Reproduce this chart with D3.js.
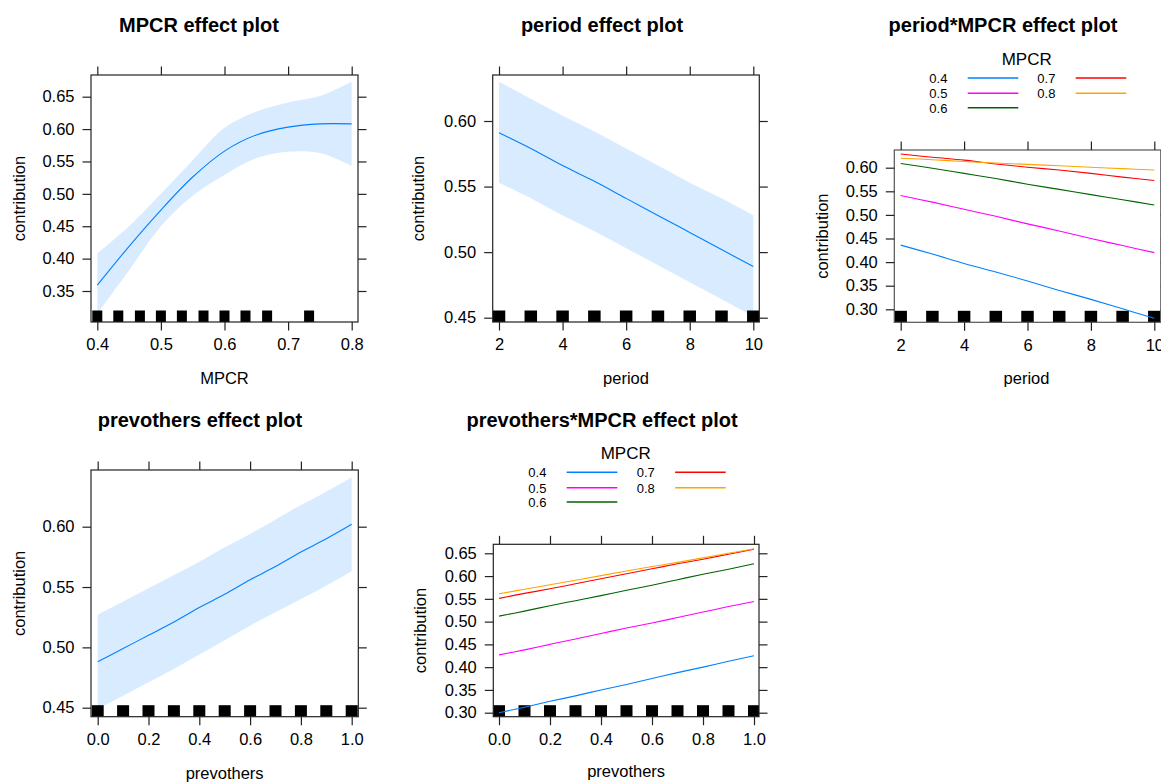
<!DOCTYPE html>
<html>
<head>
<meta charset="utf-8">
<script src="https://cdn.jsdelivr.net/npm/d3@7"></script>
<style>
  body { margin: 0; background: #fff; }
  svg text { font-family: "Liberation Sans", Arial, sans-serif; fill: #000; }
</style>
</head>
<body>
<svg id="vimage" width="1161" height="782"></svg>
<script>
//---------------------------------------- data ---------------------------------------
var mpcrX     = [0.40, 0.45, 0.50, 0.55, 0.60, 0.65, 0.70, 0.75, 0.80];
var mpcrFit   = [0.359, 0.419, 0.475, 0.526, 0.566, 0.591, 0.603, 0.608, 0.608];
var mpcrUpper = [0.408, 0.450, 0.500, 0.552, 0.602, 0.627, 0.641, 0.651, 0.673];
var mpcrLower = [0.315, 0.382, 0.450, 0.497, 0.529, 0.555, 0.565, 0.563, 0.543];
var mpcrRug   = [0.4, 0.433, 0.467, 0.5, 0.533, 0.567, 0.6, 0.633, 0.667, 0.733];

var periodX     = [2, 3, 4, 5, 6, 7, 8, 9, 10];
var periodFit   = [0.591, 0.579, 0.566, 0.554, 0.541, 0.528, 0.515, 0.502, 0.489];
var periodUpper = [0.630, 0.617, 0.604, 0.592, 0.579, 0.566, 0.553, 0.541, 0.528];
var periodLower = [0.553, 0.541, 0.528, 0.516, 0.503, 0.490, 0.477, 0.464, 0.451];

var prevX     = [0.0, 0.1, 0.2, 0.3, 0.4, 0.5, 0.6, 0.7, 0.8, 0.9, 1.0];
var prevFit   = [0.488, 0.499, 0.510, 0.521, 0.533, 0.544, 0.556, 0.567, 0.579, 0.590, 0.602];
var prevUpper = [0.527, 0.538, 0.549, 0.560, 0.571, 0.583, 0.594, 0.606, 0.618, 0.629, 0.641];
var prevLower = [0.449, 0.460, 0.471, 0.482, 0.494, 0.506, 0.518, 0.529, 0.540, 0.551, 0.563];

var mpcrLevels = ["0.4", "0.5", "0.6", "0.7", "0.8"];
var levelColors = ["#0080ff", "#ff00ff", "#006400", "#ff0000", "#ffa500"];

// period*MPCR, one row per MPCR level
var periodByMpcr = [
  [0.436, 0.417, 0.397, 0.379, 0.360, 0.340, 0.321, 0.301, 0.281],
  [0.541, 0.527, 0.512, 0.497, 0.481, 0.466, 0.450, 0.435, 0.420],
  [0.609, 0.599, 0.588, 0.577, 0.565, 0.554, 0.543, 0.532, 0.521],
  [0.629, 0.622, 0.616, 0.608, 0.601, 0.595, 0.588, 0.580, 0.573],
  [0.620, 0.617, 0.613, 0.610, 0.607, 0.604, 0.601, 0.598, 0.595]
];

// prevothers*MPCR, one row per MPCR level
var prevByMpcr = [
  [0.300, 0.312, 0.325, 0.337, 0.350, 0.362, 0.375, 0.388, 0.400, 0.413, 0.425],
  [0.427, 0.438, 0.450, 0.462, 0.474, 0.486, 0.497, 0.509, 0.521, 0.533, 0.544],
  [0.512, 0.523, 0.535, 0.546, 0.557, 0.569, 0.580, 0.592, 0.604, 0.615, 0.627],
  [0.551, 0.562, 0.572, 0.583, 0.594, 0.605, 0.616, 0.627, 0.637, 0.648, 0.659],
  [0.561, 0.571, 0.581, 0.591, 0.601, 0.611, 0.621, 0.630, 0.640, 0.650, 0.660]
];

var mpcrTicks = [0.4, 0.5, 0.6, 0.7, 0.8];
var periodTicks = [2, 4, 6, 8, 10];
var prevTicks = [0.0, 0.2, 0.4, 0.6, 0.8, 1.0];

var svg = d3.select("#vimage");
var clipCount = 0;

//---------------------------------------- one lattice-style panel ---------------------------------------
function panel(p) {
  var x = d3.scaleLinear().domain(p.xd).range(p.xr);
  var y = d3.scaleLinear().domain(p.yd).range(p.yr);
  var b = p.box;
  var g = svg.append("g");

  var clipId = "clip" + (clipCount++);
  g.append("clipPath").attr("id", clipId)
    .append("rect").attr("x", b[0]).attr("y", b[1]).attr("width", b[2] - b[0]).attr("height", b[3] - b[1]);
  var plot = g.append("g").attr("clip-path", "url(#" + clipId + ")");

  // confidence band
  if (p.band) {
    var area = d3.area()
      .x(function(d, i) { return x(p.xs[i]); })
      .y0(function(d, i) { return y(p.band[1][i]); })
      .y1(function(d, i) { return y(p.band[0][i]); })
      .curve(d3.curveCatmullRom);
    plot.append("path").datum(p.xs).attr("d", area)
      .attr("fill", "rgba(0,128,255,0.15)");
  }

  // rug
  plot.selectAll(".rug").data(p.rug).enter().append("rect")
    .attr("x", function(d) { return x(d) - p.rugW / 2; })
    .attr("y", b[3] - 11.5)
    .attr("width", p.rugW)
    .attr("height", 11.5)
    .attr("fill", "#000");

  // fitted lines
  var line = d3.line()
    .x(function(d, i) { return x(p.xs[i]); })
    .y(function(d) { return y(d); })
    .curve(d3.curveCatmullRom);
  p.lines.forEach(function(vals, k) {
    plot.append("path").datum(vals).attr("d", line)
      .attr("fill", "none")
      .attr("stroke", p.colors[k])
      .attr("stroke-width", 1.1);
  });

  // box
  g.append("rect").attr("x", b[0]).attr("y", b[1]).attr("width", b[2] - b[0]).attr("height", b[3] - b[1])
    .attr("fill", "none").attr("stroke", p.boxColor || "#222").attr("stroke-width", 1.2);

  // axes: labels left/bottom, ticks on all sides
  var tl = 8.5;
  var bottom = g.append("g").attr("transform", "translate(0," + b[3] + ")")
    .call(d3.axisBottom(x).tickValues(p.xt).tickSize(tl).tickPadding(8).tickFormat(p.xf));
  var top = g.append("g").attr("transform", "translate(0," + b[1] + ")")
    .call(d3.axisTop(x).tickValues(p.xt).tickSize(tl).tickFormat(""));
  var left = g.append("g").attr("transform", "translate(" + b[0] + ",0)")
    .call(d3.axisLeft(y).tickValues(p.yt).tickSize(tl).tickPadding(8).tickFormat(d3.format(".2f")));
  var right = g.append("g").attr("transform", "translate(" + b[2] + ",0)")
    .call(d3.axisRight(y).tickValues(p.yt).tickSize(tl).tickFormat(""));
  [bottom, top, left, right].forEach(function(a) {
    a.select(".domain").remove();
    a.selectAll(".tick line").attr("stroke", "#222").attr("stroke-width", 1.2);
    a.selectAll(".tick text").style("font-size", "16.5px").attr("fill", "#000")
      .style("font-family", "'Liberation Sans', Arial, sans-serif");
  });

  // titles
  svg.append("text").attr("x", p.title[1]).attr("y", p.title[2])
    .attr("text-anchor", "middle").style("font-size", "20px").style("font-weight", "bold")
    .text(p.title[0]);
  svg.append("text").attr("x", (b[0] + b[2]) / 2 + (p.xlabDx || 0)).attr("y", p.xlabY)
    .attr("text-anchor", "middle").style("font-size", "16.5px").text(p.xlab);
  svg.append("text")
    .attr("transform", "translate(" + p.ylabX + "," + ((b[1] + b[3]) / 2) + ") rotate(-90)")
    .attr("text-anchor", "middle").style("font-size", "16.5px").text("contribution");

  // legend
  if (p.legend) {
    var L = p.legend;
    svg.append("text").attr("x", L.titleX).attr("y", L.titleY)
      .attr("text-anchor", "middle").style("font-size", "17px").text("MPCR");
    var items = svg.selectAll(null).data(mpcrLevels).enter().append("g")
      .attr("transform", function(d, i) {
        var col = i < 3 ? 0 : 1, row = i < 3 ? i : i - 3;
        return "translate(" + L.colX[col] + "," + L.rowY[row] + ")";
      });
    items.append("text").attr("x", 0).attr("y", 5).style("font-size", "13px")
      .text(function(d) { return d; });
    items.append("line").attr("x1", L.lineX[0]).attr("x2", L.lineX[1])
      .attr("y1", 0).attr("y2", 0)
      .attr("stroke", function(d, i) { return levelColors[i]; })
      .attr("stroke-width", 1.6);
  }
}

var f1 = d3.format(".1f");

panel({
  title: ["MPCR effect plot", 199, 32], xlab: "MPCR", xlabY: 384, ylabX: 25,
  box: [91, 75, 358, 322], xd: [0.4, 0.8], xr: [97.3, 351.7], yd: [0.35, 0.65], yr: [291, 96.7],
  xt: mpcrTicks, xf: f1, yt: [0.35, 0.40, 0.45, 0.50, 0.55, 0.60, 0.65],
  xs: mpcrX, band: [mpcrUpper, mpcrLower], lines: [mpcrFit], colors: ["#0080ff"],
  rug: mpcrRug, rugW: 10
});

panel({
  title: ["period effect plot", 602, 32], xlab: "period", xlabY: 384, ylabX: 424,
  box: [492.7, 75, 759.3, 322], xd: [2, 10], xr: [499, 753.3], yd: [0.45, 0.60], yr: [317.7, 121],
  xt: periodTicks, xf: d3.format("d"), yt: [0.45, 0.50, 0.55, 0.60],
  xs: periodX, band: [periodUpper, periodLower], lines: [periodFit], colors: ["#0080ff"],
  rug: periodX, rugW: 12.5
});

panel({
  title: ["period*MPCR effect plot", 1003, 32], xlab: "period", xlabY: 384, xlabDx: -1, ylabX: 828,
  box: [894.3, 150, 1160.8, 322.3], xd: [2, 10], xr: [900.7, 1154.3], yd: [0.30, 0.60], yr: [309.3, 167.7],
  xt: periodTicks, xf: d3.format("d"), yt: [0.30, 0.35, 0.40, 0.45, 0.50, 0.55, 0.60],
  xs: periodX, lines: periodByMpcr, colors: levelColors, boxColor: "#555",
  rug: periodX, rugW: 12.5,
  legend: { titleX: 1026.7, titleY: 65, colX: [929.3, 1037.3], rowY: [78, 93.3, 107.7], lineX: [38.4, 89] }
});

panel({
  title: ["prevothers effect plot", 200, 427], xlab: "prevothers", xlabY: 779, ylabX: 25,
  box: [91, 470, 358.3, 716.7], xd: [0, 1], xr: [97.7, 351.7], yd: [0.45, 0.60], yr: [707.7, 526.7],
  xt: prevTicks, xf: f1, yt: [0.45, 0.50, 0.55, 0.60],
  xs: prevX, band: [prevUpper, prevLower], lines: [prevFit], colors: ["#0080ff"],
  rug: prevX, rugW: 12
});

panel({
  title: ["prevothers*MPCR effect plot", 602, 427], xlab: "prevothers", xlabY: 777, ylabX: 426,
  box: [493.3, 544.3, 759, 716.7], xd: [0, 1], xr: [499, 754], yd: [0.30, 0.65], yr: [712.7, 553.3],
  xt: prevTicks, xf: f1, yt: [0.30, 0.35, 0.40, 0.45, 0.50, 0.55, 0.60, 0.65],
  xs: prevX, lines: prevByMpcr, colors: levelColors,
  rug: prevX, rugW: 12,
  legend: { titleX: 625.7, titleY: 459, colX: [528.3, 636.7], rowY: [472.3, 487.7, 502], lineX: [38.4, 89] }
});
</script>
</body>
</html>
